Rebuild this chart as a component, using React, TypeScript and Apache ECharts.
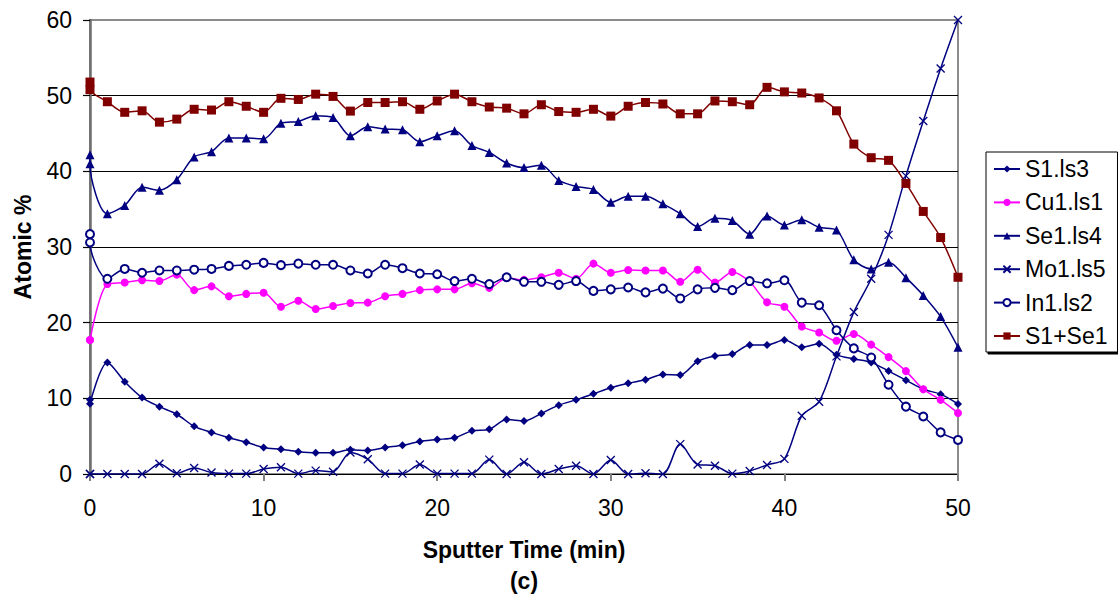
import React, { useEffect, useRef } from "react";
import * as echarts from "echarts";

const xValues = [0, 0, 1, 2, 3, 4, 5, 6, 7, 8, 9, 10, 11, 12, 13, 14, 15, 16, 17, 18, 19, 20, 21, 22, 23, 24, 25, 26, 27, 28, 29, 30, 31, 32, 33, 34, 35, 36, 37, 38, 39, 40, 41, 42, 43, 44, 45, 46, 47, 48, 49, 50];

const s1ls3 = [9.8, 9.3, 14.75, 12.2, 10.1, 8.9, 7.9, 6.3, 5.5, 4.8, 4.2, 3.5, 3.26, 2.95, 2.8, 2.8, 3.2, 3.1, 3.5, 3.8, 4.3, 4.55, 4.8, 5.7, 5.9, 7.2, 7.0, 8.0, 9.1, 9.8, 10.6, 11.4, 12.0, 12.45, 13.15, 13.1, 14.9, 15.6, 15.85, 17.05, 17.05, 17.7, 16.75, 17.2, 15.75, 15.2, 14.75, 13.6, 12.4, 11.2, 10.55, 9.25];
const cu1ls1 = [17.7, 17.7, 25.1, 25.3, 25.6, 25.5, 26.35, 24.3, 24.8, 23.5, 23.8, 23.96, 22.1, 22.9, 21.8, 22.2, 22.6, 22.65, 23.5, 23.8, 24.3, 24.4, 24.4, 25.2, 24.6, 25.9, 25.65, 26.0, 26.6, 25.8, 27.8, 26.6, 26.95, 26.9, 26.9, 25.4, 27.0, 25.3, 26.7, 25.4, 22.7, 22.1, 19.5, 18.7, 17.6, 18.5, 17.1, 15.45, 13.6, 11.2, 9.8, 8.07];
const se1ls4 = [42.2, 41.0, 34.4, 35.5, 37.9, 37.5, 38.9, 41.9, 42.6, 44.4, 44.4, 44.3, 46.35, 46.6, 47.35, 47.1, 44.7, 45.9, 45.6, 45.5, 43.9, 44.7, 45.35, 43.4, 42.5, 41.1, 40.5, 40.8, 38.8, 38.0, 37.6, 35.9, 36.7, 36.7, 35.7, 34.4, 32.7, 33.8, 33.5, 31.7, 34.1, 32.9, 33.6, 32.6, 32.25, 28.3, 27.1, 28.0, 25.95, 23.6, 20.8, 16.75];
const mo1ls5 = [0, 0, 0, 0, 0, 1.35, 0.1, 0.8, 0.2, 0.05, 0.05, 0.65, 0.9, 0.05, 0.45, 0.3, 2.85, 1.95, 0.05, 0.05, 1.25, 0.05, 0.05, 0.05, 1.9, 0, 1.55, 0, 0.65, 1.1, 0, 1.85, 0, 0.1, 0, 3.95, 1.25, 1.1, 0.05, 0.4, 1.2, 2.0, 7.7, 9.55, 15.55, 21.4, 25.8, 31.6, 39.4, 46.65, 53.6, 60];
const in1ls2 = [31.7, 30.6, 25.8, 27.1, 26.6, 26.9, 26.9, 27.0, 27.1, 27.5, 27.65, 27.9, 27.6, 27.8, 27.65, 27.65, 26.9, 26.5, 27.65, 27.2, 26.5, 26.4, 25.5, 25.8, 25.1, 26.0, 25.4, 25.4, 25.0, 25.5, 24.2, 24.4, 24.65, 24.0, 24.5, 23.2, 24.4, 24.6, 24.3, 25.5, 25.2, 25.6, 22.65, 22.3, 19.0, 16.6, 15.4, 11.8, 8.9, 7.6, 5.5, 4.5];
const s1se1 = [51.8, 50.8, 49.2, 47.8, 48.0, 46.5, 46.9, 48.2, 48.1, 49.2, 48.6, 47.8, 49.65, 49.5, 50.2, 49.9, 47.96, 49.1, 49.1, 49.2, 48.2, 49.3, 50.2, 49.2, 48.5, 48.35, 47.6, 48.8, 47.9, 47.8, 48.2, 47.3, 48.6, 49.1, 48.9, 47.6, 47.6, 49.3, 49.2, 48.8, 51.1, 50.5, 50.35, 49.7, 48.0, 43.6, 41.8, 41.45, 38.4, 34.7, 31.25, 26.0];

const seriesNames = ["S1.ls3", "Cu1.ls1", "Se1.ls4", "Mo1.ls5", "In1.ls2", "S1+Se1"];
const yTicks = { min: 0, max: 60, interval: 10 };
const xTicks = { min: 0, max: 50, interval: 10 };

const FONT = "'Liberation Sans', Arial, sans-serif";
const W = 1118;
const H = 601;

function pairs(ys: number[]) {
  return xValues.map((x, i) => [x, ys[i]]);
}

export default function App() {
  const ref = useRef<HTMLDivElement>(null);
  useEffect(() => {
    document.body.style.margin = "0";
    const chart = echarts.init(ref.current!, null, { renderer: "svg", width: W, height: H });
    const navy = "#000080";
    const mk = (name: string, data: number[], color: string, symbol: string, size: number) => ({
      name,
      type: "line",
      data: pairs(data),
      smooth: 0.3,
      symbol,
      symbolSize: size,
      showSymbol: true,
      clip: true,
      lineStyle: { color, width: 1.5 },
      itemStyle: { color },
      emphasis: { disabled: true },
    });
    chart.setOption({
      animation: false,
      backgroundColor: "#fff",
      textStyle: { fontFamily: FONT },
      grid: {
        left: 90,
        right: 160,
        top: 20,
        bottom: 120,
        show: true,
        borderColor: "#8c8c8c",
        borderWidth: 2,
        backgroundColor: "transparent",
      },
      legend: {
        orient: "vertical",
        left: 986,
        top: 152,
        data: seriesNames,
        itemWidth: 26,
        itemHeight: 9,
        itemGap: 7.4,
        padding: [4, 10, 3, 7],
        borderColor: "#000",
        borderWidth: 1,
        backgroundColor: "#fff",
        shadowColor: "#000",
        shadowOffsetX: 2,
        shadowOffsetY: 2,
        shadowBlur: 0,
        textStyle: { fontSize: 23, lineHeight: 26, color: "#000", fontFamily: FONT },
        selectedMode: false,
      },
      xAxis: {
        type: "value",
        min: xTicks.min,
        max: xTicks.max,
        interval: xTicks.interval,
        name: "Sputter Time (min)\n(c)",
        nameLocation: "middle",
        nameGap: 60,
        nameTextStyle: { fontSize: 23, fontWeight: "bold", color: "#000", lineHeight: 31, fontFamily: FONT },
        axisLine: { show: true, onZero: false, lineStyle: { color: "#000", width: 1.2 } },
        axisTick: { show: true, length: 7, lineStyle: { color: "#808080", width: 2 } },
        axisLabel: { fontSize: 23, color: "#000", margin: 22, fontFamily: FONT },
        splitLine: { show: false },
      },
      yAxis: {
        type: "value",
        min: yTicks.min,
        max: yTicks.max,
        interval: yTicks.interval,
        name: "Atomic %",
        nameLocation: "middle",
        nameGap: 56,
        nameRotate: 90,
        nameTextStyle: { fontSize: 23, fontWeight: "bold", color: "#000", fontFamily: FONT },
        axisLine: { show: true, lineStyle: { color: "#6e6e6e", width: 2.5 } },
        axisTick: { show: true, length: 7, lineStyle: { color: "#000", width: 1.2 } },
        axisLabel: { fontSize: 23, color: "#000", margin: 18, fontFamily: FONT },
        splitLine: { show: true, showMinLine: false, showMaxLine: false, lineStyle: { color: "#000", width: 1.2 } },
      },
      series: [
        mk(seriesNames[0], s1ls3, navy, "diamond", 8),
        mk(seriesNames[1], cu1ls1, "#ff00ff", "circle", 8),
        mk(seriesNames[2], se1ls4, navy, "triangle", 9),
        {
          ...mk(seriesNames[3], mo1ls5, navy, "path://M0,0L10,10M10,0L0,10", 8),
          itemStyle: { color: navy, borderColor: navy, borderWidth: 1.3 },
        },
        {
          ...mk(seriesNames[4], in1ls2, navy, "emptyCircle", 8),
          itemStyle: { color: navy, borderColor: navy, borderWidth: 1.3 },
        },
        mk(seriesNames[5], s1se1, "#800000", "rect", 9),
      ],
    });
    return () => chart.dispose();
  }, []);
  return <div ref={ref} style={{ width: W, height: H, position: "absolute", left: 0, top: 0 }} />;
}
